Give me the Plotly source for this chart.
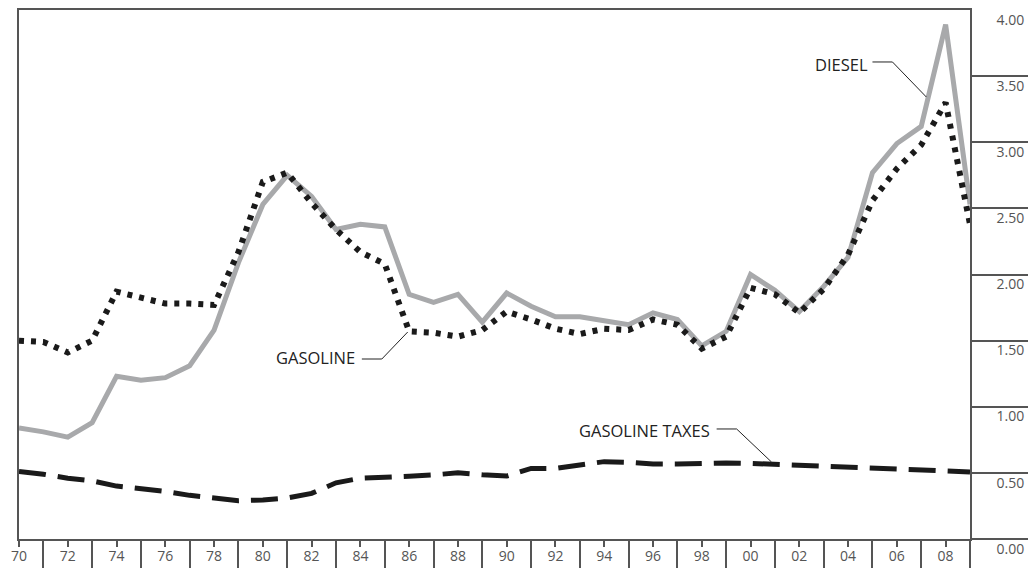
import plotly.graph_objects as go

years = list(range(1970, 2010))
diesel = [0.84, 0.81, 0.77, 0.88, 1.23, 1.20, 1.22, 1.31, 1.58, 2.09,
          2.53, 2.75, 2.59, 2.34, 2.38, 2.36, 1.85, 1.79, 1.85, 1.64,
          1.86, 1.76, 1.68, 1.68, 1.65, 1.62, 1.71, 1.66, 1.46, 1.57,
          2.00, 1.88, 1.72, 1.91, 2.13, 2.77, 2.99, 3.12, 3.89, 2.53]
gasoline = [1.50, 1.49, 1.41, 1.50, 1.87, 1.82, 1.78, 1.78, 1.77, 2.17,
            2.70, 2.77, 2.54, 2.34, 2.17, 2.08, 1.57, 1.56, 1.53, 1.58,
            1.72, 1.66, 1.59, 1.55, 1.59, 1.58, 1.66, 1.62, 1.44, 1.53,
            1.90, 1.85, 1.71, 1.89, 2.15, 2.56, 2.80, 2.98, 3.30, 2.38]
taxes = [0.51, 0.49, 0.46, 0.44, 0.40, 0.38, 0.36, 0.33, 0.31, 0.29,
         0.295, 0.31, 0.345, 0.425, 0.46, 0.465, 0.475, 0.485, 0.50, 0.485,
         0.476, 0.534, 0.534, 0.56, 0.585, 0.58, 0.567, 0.567, 0.575, 0.575,
         0.572, 0.565, 0.562, 0.554, 0.547, 0.537, 0.529, 0.522, 0.516, 0.507]

x_major = list(range(1970, 2009, 2))
x_labels = [f"{y % 100:02d}" for y in x_major]
x_minor = list(range(1971, 2010, 2))
y_vals = [0, 0.5, 1, 1.5, 2, 2.5, 3, 3.5, 4]
y_labels = ["0.00", "0.50", "1.00", "1.50", "2.00", "2.50", "3.00", "3.50", "4.00"]
y_minor = [0, 0.5, 1, 1.5, 2, 2.5, 3, 3.5]

FONT = "Open Sans"
AX = "#555555"

fig = go.Figure()
fig.add_trace(go.Scatter(x=years, y=diesel, mode="lines",
                         line=dict(color="#a8a9ab", width=5), name="DIESEL"))
fig.add_trace(go.Scatter(x=years, y=gasoline, mode="lines",
                         line=dict(color="#1a1a1a", width=6, dash="5px,7px"), name="GASOLINE"))
fig.add_trace(go.Scatter(x=years, y=taxes, mode="lines",
                         line=dict(color="#1a1a1a", width=5, dash="27px,12px"), name="GASOLINE TAXES"))

# annotation leaders
leaders = [
    [(2005.0, 3.607), (2005.82, 3.607), (2007.21, 3.342)],
    [(1984.06, 1.361), (1984.88, 1.361), (1985.94, 1.565)],
    [(1998.61, 0.832), (1999.43, 0.832), (2000.86, 0.582)],
]
for pts in leaders:
    path = "M " + " L ".join(f"{a},{b}" for a, b in pts)
    fig.add_shape(type="path", path=path, xref="x", yref="y",
                  line=dict(color="#222222", width=1))

labels = [("DIESEL", 2004.88, 3.59), ("GASOLINE", 1983.85, 1.37),
          ("GASOLINE TAXES", 1998.4, 0.824)]
for txt, xx, yy in labels:
    fig.add_annotation(text=txt, x=xx, y=yy, xref="x", yref="y",
                       xanchor="right", yanchor="middle", showarrow=False,
                       font=dict(family=FONT, size=16.5, color="#222222"))

fig.update_layout(
    width=1028, height=568,
    margin=dict(l=19, r=58, t=10, b=29, autoexpand=False),
    paper_bgcolor="white", plot_bgcolor="white",
    showlegend=False,
    font=dict(family=FONT, size=14, color=AX),
    xaxis=dict(range=[1970, 2009], showgrid=False, zeroline=False, automargin=False,
               showline=True, linecolor=AX, linewidth=1.5, mirror=True,
               tickmode="array", tickvals=x_major, ticktext=x_labels,
               ticks="outside", ticklen=6, tickcolor=AX, tickwidth=1.5,
               ticklabelstandoff=-3,
               tickfont=dict(family=FONT, size=14, color=AX),
               minor=dict(tickmode="array", tickvals=x_minor, ticks="outside",
                          ticklen=30, tickcolor=AX, tickwidth=1.5, showgrid=False)),
    yaxis=dict(range=[0, 4], side="right", showgrid=False, zeroline=False, automargin=False,
               showline=True, linecolor=AX, linewidth=1.5, mirror=True,
               tickmode="array", tickvals=y_vals, ticktext=y_labels,
               ticks="", ticklabelposition="outside bottom",
               ticklabelstandoff=22,
               tickfont=dict(family=FONT, size=14, color=AX),
               minor=dict(tickmode="array", tickvals=y_minor, ticks="outside",
                          ticklen=58, tickcolor=AX, tickwidth=1.5, showgrid=False)),
)

fig.write_html("out.html", config={"displayModeBar": False},
               post_script="document.body.style.margin='0';document.body.style.overflow='hidden';")
